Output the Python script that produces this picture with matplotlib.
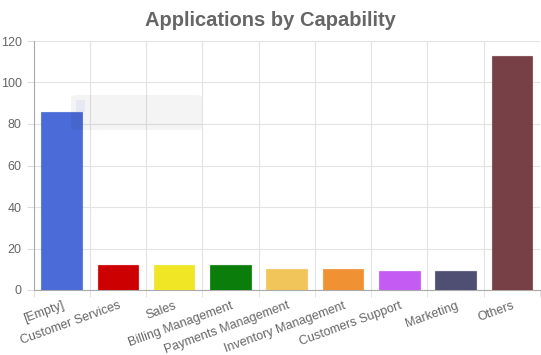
import matplotlib
matplotlib.use("Agg")
import matplotlib.pyplot as plt
from matplotlib.patches import FancyBboxPatch

categories = ["[Empty]", "Customer Services", "Sales", "Billing Management",
              "Payments Management", "Inventory Management", "Customers Support",
              "Marketing", "Others"]
counts = [86, 12, 12, 12, 10, 10, 9, 9, 113]
colors = ["#4a6bd8", "#cc0000", "#f0e626", "#0a7d0a", "#f2c55a",
          "#f09234", "#c45cf4", "#4f4f74", "#774046"]

plt.rcParams["font.family"] = ["Liberation Sans", "DejaVu Sans"]

fig = plt.figure(figsize=(5.41, 3.55), dpi=100)
ax = fig.add_axes([33.5/541, 1 - 290/355, (540 - 33.5)/541, (290 - 41)/355])

x = list(range(len(categories)))
ax.bar(x, counts, width=0.72, color=colors, edgecolor=[c + "bb" for c in colors],
       linewidth=0.8, zorder=3)

ax.set_xlim(-0.5, len(categories) - 0.5)
ax.set_ylim(0, 120)
ax.set_yticks(range(0, 121, 20))

# grid lines sit between categories
ax.set_xticks([i - 0.5 for i in range(len(categories) + 1)], minor=True)
ax.set_xticks(x)
ax.set_xticklabels(categories, rotation=20, ha="right", rotation_mode="anchor",
                   fontsize=9, color="#666666")
ax.tick_params(axis="x", which="major", length=0, pad=7)
ax.tick_params(axis="x", which="minor", length=5, color="#dddddd")
ax.tick_params(axis="y", length=5, color="#dddddd", labelsize=9, labelcolor="#666666")
ax.grid(axis="x", which="minor", color="#e3e3e3", linewidth=0.8, zorder=0)
ax.grid(axis="y", which="major", color="#e3e3e3", linewidth=0.8, zorder=0)

for side in ["top", "right"]:
    ax.spines[side].set_visible(False)
for side in ["left", "bottom"]:
    ax.spines[side].set_color("#aaaaaa")
    ax.spines[side].set_linewidth(0.8)

fig.suptitle("Applications by Capability", x=0.5, y=0.968, fontsize=14.5,
             fontweight="bold", color="#666666")

# faint leftover tooltip box
box = FancyBboxPatch((71/541, 1 - 130/355), 131/541, 35/355,
                     boxstyle="round,pad=0,rounding_size=0.01",
                     transform=fig.transFigure, facecolor="#000000", alpha=0.045,
                     edgecolor="none", zorder=10)
fig.patches.append(box)
box2 = FancyBboxPatch((76/541, 1 - 112/355), 9/541, 12/355,
                      boxstyle="square,pad=0", transform=fig.transFigure,
                      facecolor="#4a6bd8", alpha=0.08, edgecolor="none", zorder=10)
fig.patches.append(box2)

fig.savefig("out.png", dpi=100)
plt.close(fig)
